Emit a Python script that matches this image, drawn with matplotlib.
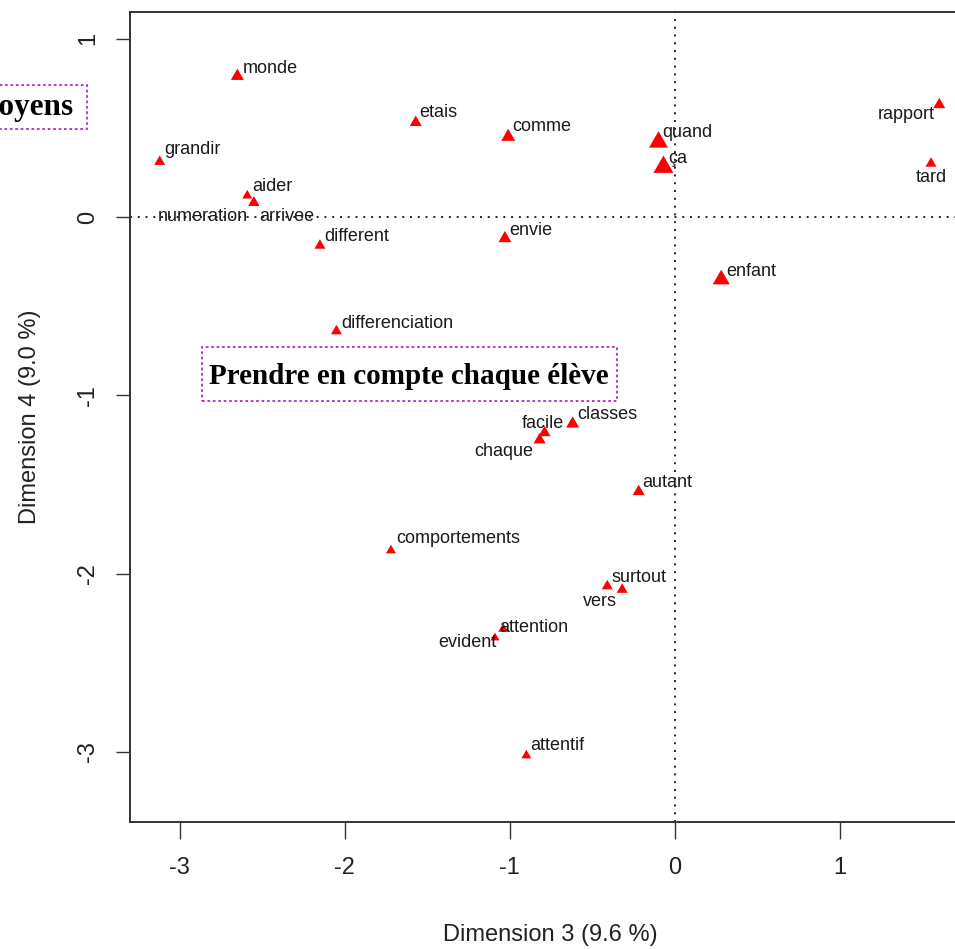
import numpy as np
import matplotlib
matplotlib.use("Agg")
import matplotlib.pyplot as plt
from matplotlib.path import Path
from matplotlib.patches import Rectangle

# ---- data ----
words = ["monde", "etais", "comme", "grandir", "aider", "numeration", "arrivee",
         "different", "differenciation", "envie", "quand", "ça", "rapport", "tard",
         "enfant", "classes", "facile", "chaque", "autant", "comportements",
         "surtout", "vers", "attention", "evident", "attentif"]
dim3 = [-2.65, -1.57, -1.01, -3.12, -2.59, -2.55, -2.55,
        -2.15, -2.05, -1.03, -0.10, -0.07, 1.60, 1.55,
        0.28, -0.62, -0.79, -0.82, -0.22, -1.72,
        -0.41, -0.32, -1.04, -1.09, -0.90]
dim4 = [0.79, 0.53, 0.45, 0.31, 0.12, 0.08, 0.08,
        -0.16, -0.64, -0.12, 0.42, 0.28, 0.63, 0.30,
        -0.35, -1.16, -1.21, -1.25, -1.54, -1.87,
        -2.07, -2.09, -2.31, -2.36, -3.02]
weight = [13, 12, 14, 11, 10, 11, 11,
          11, 11, 13, 19, 20, 12, 11,
          17, 13, 12, 12, 12, 10,
          11, 11, 10, 9, 10]
xlabel = "Dimension 3 (9.6 %)"
ylabel = "Dimension 4 (9.0 %)"
xticks = [-3, -2, -1, 0, 1]
yticks = [-3, -2, -1, 0, 1]
box_texts = ["Prendre en compte chaque élève", "Moyens"]

# ---- label placement (pixels offset, alignment) ----
label_off = {
    "monde": (5, 8, "left"), "etais": (4, 10, "left"), "comme": (4, 10, "left"),
    "grandir": (5, 12, "left"), "aider": (5, 9, "left"),
    "numeration": (-6, -14, "right"), "arrivee": (5, -14, "left"),
    "different": (4, 9, "left"), "differenciation": (5, 8, "left"),
    "envie": (4, 8, "left"), "quand": (4, 10, "left"), "ça": (5, 9, "left"),
    "rapport": (-5, -10, "right"), "tard": (0, -14, "center"),
    "enfant": (5, 8, "left"), "classes": (5, 9, "left"),
    "facile": (19, 9, "right"), "chaque": (-6, -12, "right"),
    "autant": (4, 9, "left"), "comportements": (5, 12, "left"),
    "surtout": (4, 9, "left"), "vers": (-5, -12, "right"),
    "attention": (-4, 1, "left"), "evident": (2, -5, "right"),
    "attentif": (4, 10, "left"),
}

W, H = 955, 949
fig = plt.figure(figsize=(W / 100, H / 100), dpi=100)
L, R, T, B = 130, 969, 12, 822
ax = fig.add_axes([L / W, 1 - B / H, (R - L) / W, (B - T) / H])
ax.set_xlim(-3.30, 1.78)
ax.set_ylim(-3.393, 1.150)

sans = "Liberation Sans"
serif = "Liberation Serif"

ax.axhline(0, color="#222222", lw=1.4, ls=(0, (1, 3)), zorder=1)
ax.axvline(0, color="#222222", lw=1.4, ls=(0, (1, 3)), zorder=1)

tri = Path([(-1, -0.577), (1, -0.577), (0, 1.155), (-1, -0.577)],
           [Path.MOVETO, Path.LINETO, Path.LINETO, Path.CLOSEPOLY])
ms = np.array(weight) / 1.203
ax.scatter(dim3, dim4, s=ms ** 2, marker=tri, color="#ff0000", linewidths=0, zorder=3)

for w, x, y in zip(words, dim3, dim4):
    dx, dy, ha = label_off[w]
    ax.annotate(w, (x, y), xytext=(dx, dy), textcoords="offset pixels",
                ha=ha, va="center", fontsize=13, family=sans, color="#1a1a1a", zorder=4)

ax.set_xticks(xticks)
ax.set_yticks(yticks)
ax.set_xticklabels([str(t) for t in xticks])
ax.set_yticklabels([str(t) for t in yticks], rotation=90, va="center")
ax.tick_params(axis="x", direction="out", length=12, width=1.0, pad=13,
               labelsize=17, color="#333333")
ax.tick_params(axis="y", direction="out", length=10, width=1.0, pad=12,
               labelsize=17, color="#333333")
for lab in ax.get_xticklabels() + ax.get_yticklabels():
    lab.set_family(sans)
    lab.set_color("#222222")
for sp in ax.spines.values():
    sp.set_linewidth(1.4)
    sp.set_color("#333333")

fig.text(550 / W, 1 - 935 / H, xlabel, ha="center", va="center",
         fontsize=17, family=sans, color="#222222")
fig.text(30 / W, 1 - 417 / H, ylabel, ha="center", va="center", rotation=90,
         fontsize=17, family=sans, color="#222222")

# annotation boxes (pixel layout)
box_col = "#b030b0"
fig.patches.append(Rectangle((202 / W, 1 - 401 / H), (617 - 202) / W, (401 - 347) / H,
                             transform=fig.transFigure, fill=False, ec=box_col,
                             lw=1.3, ls=(0, (1.5, 1.5)), zorder=5))
fig.text(409 / W, 1 - 376 / H, box_texts[0], ha="center", va="center",
         fontsize=21, family=serif, weight="bold", color="black", zorder=6)
fig.patches.append(Rectangle((-20 / W, 1 - 129 / H), (87 + 20) / W, (129 - 85) / H,
                             transform=fig.transFigure, fill=False, ec=box_col,
                             lw=1.3, ls=(0, (1.5, 1.5)), zorder=5))
fig.text(74 / W, 1 - 108 / H, box_texts[1], ha="right", va="center",
         fontsize=22.5, family=serif, weight="bold", color="black", zorder=6)

fig.savefig("out.png", dpi=100)
